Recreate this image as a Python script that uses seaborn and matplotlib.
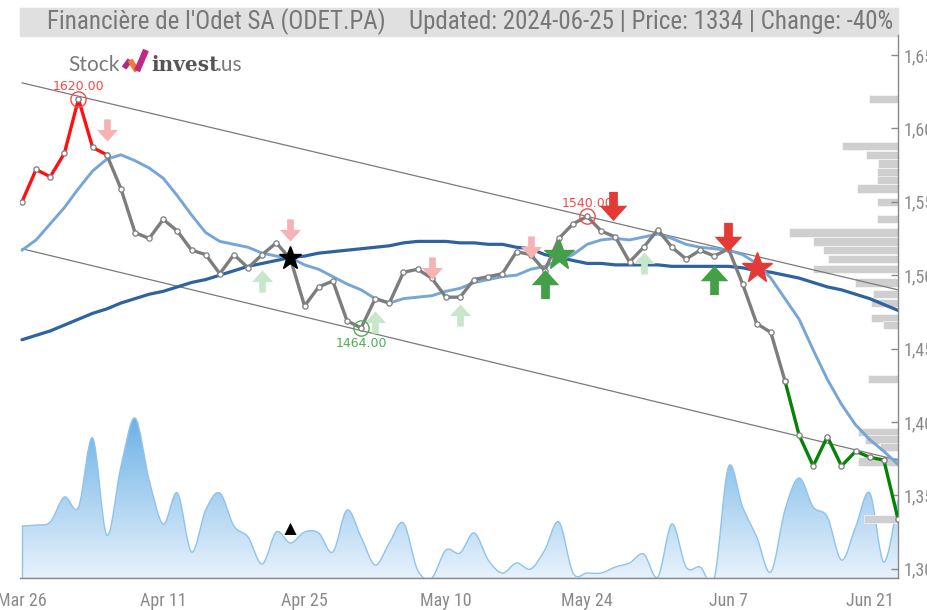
import os
import numpy as np
import pandas as pd
import matplotlib
matplotlib.use("Agg")
import matplotlib.pyplot as plt
import seaborn as sns
from matplotlib import font_manager
from matplotlib.path import Path
from matplotlib.patches import PathPatch, Rectangle
from matplotlib.colors import LinearSegmentedColormap
from matplotlib.lines import Line2D

# ---- data ----
# trading days (Euronext closed on Good Friday, Easter Monday and May 1)
days = pd.bdate_range("2024-03-26", "2024-06-25")
days = days.drop(pd.to_datetime(["2024-03-29", "2024-04-01", "2024-05-01"]))

close = [1550, 1572, 1567, 1583, 1620, 1587, 1582, 1559, 1529, 1525,
         1538, 1530, 1517, 1514, 1501, 1514, 1505, 1514, 1522, 1511,
         1479, 1492, 1496, 1469, 1464, 1484, 1481, 1502, 1504, 1498,
         1485, 1485, 1497, 1499, 1501, 1516, 1514, 1503, 1525, 1535,
         1540, 1530, 1526, 1509, 1519, 1531, 1519, 1511, 1517, 1513,
         1518, 1494, 1467, 1461, 1428, 1391, 1370, 1390, 1370, 1380,
         1376, 1374, 1334]

ma_short = [1517, 1524, 1535, 1546, 1559, 1571, 1579, 1582, 1578, 1573,
            1566, 1554, 1541, 1529, 1523, 1521, 1519, 1515, 1513, 1512,
            1507, 1504, 1499, 1494, 1490, 1484, 1481, 1484, 1485, 1486,
            1489, 1491, 1495, 1497, 1499, 1500, 1504, 1506, 1510, 1514,
            1521, 1524, 1525, 1524, 1526, 1528, 1525, 1521, 1519, 1518,
            1517, 1514, 1508, 1498, 1484, 1470, 1449, 1429, 1412, 1398,
            1388, 1380, 1371]

ma_long = [1456, 1459, 1462, 1466, 1470, 1474, 1477, 1481, 1484, 1487,
           1489, 1492, 1495, 1497, 1500, 1503, 1506, 1508, 1510, 1512,
           1513, 1515, 1516, 1517, 1518, 1519, 1520, 1522, 1523, 1523,
           1523, 1522, 1522, 1521, 1521, 1519, 1518, 1514, 1512, 1510,
           1508, 1508, 1507, 1507, 1507, 1507, 1506, 1506, 1506, 1506,
           1506, 1505, 1503, 1502, 1500, 1498, 1495, 1492, 1490, 1487,
           1484, 1480, 1476]

# relative daily volume
volume = [52, 53, 56, 81, 71, 140, 43, 111, 160, 98,
          54, 85, 26, 68, 85, 52, 41, 14, 46, 35,
          46, 45, 26, 68, 41, 13, 35, 55, 8, 0,
          28, 25, 45, 18, 5, 15, 9, 28, 56, 5,
          5, 5, 11, 15, 24, 1, 54, 11, 11, 0,
          111, 71, 41, 6, 68, 100, 71, 61, 18, 51,
          85, 16, 78]

# trend channel (start / end of period)
channel_upper = [1631, 1490]
channel_lower = [1518, 1374]

# volume at price (right side profile)
profile_price = [1620, 1588, 1582, 1576, 1570, 1565, 1559, 1550, 1538, 1529,
                 1523, 1517, 1511, 1504, 1495, 1487, 1481, 1471, 1466, 1429,
                 1393, 1388, 1383, 1373, 1334]
profile_volume = [29, 56, 32, 20, 21, 21, 41, 21, 21, 109,
                  85, 75, 70, 85, 43, 25, 27, 27, 15, 30,
                  40, 33, 18, 40, 34]

# price marks
mark_idx = [4, 24, 40]
mark_color = ["#f04a4a", "#4caf50", "#f04a4a"]
mark_offset = [9, -11, 9]

# signals: (trading day, price level)
sell_weak_x, sell_weak_y = [6, 19, 29, 36], [1599, 1531, 1505, 1519]
buy_weak_x, buy_weak_y = [17, 25, 31, 44], [1496, 1468, 1473, 1508]
sell_strong_x, sell_strong_y = [41.8, 50], [1547, 1526]
buy_strong_x, buy_strong_y = [37, 49], [1494, 1497]
star_x = [19, 38, 52]
star_y = [1512, 1514, 1505]
star_color = ["black", "#43a047", "#e53935"]
star_size = [17, 23, 23]
vol_mark_x, vol_mark_y = 19, 50

title_left = "Financière de l'Odet SA (ODET.PA)"
title_right = "Updated: 2024-06-25 | Price: 1334 | Change: -40%"


def narrow_font():
    # look for a condensed sans regular face, fall back to Liberation Sans
    prefs = ["liberationsansnarrow-regular", "robotocondensed-regular",
             "notosans-condensed.", "notosans-condensedregular",
             "opensans-condensed", "dejavusanscondensed."]
    files = [f.fname for f in font_manager.fontManager.ttflist]
    for key in prefs:
        for fn in files:
            if key in os.path.basename(fn).lower():
                return font_manager.FontProperties(fname=fn)
    return font_manager.FontProperties(family="Liberation Sans")


# ---- figure ----
sns.set_style("white")
plt.rcParams["font.family"] = ["Liberation Sans", "DejaVu Sans"]
fp = narrow_font()

W, H = 928, 610
fig = plt.figure(figsize=(W / 100, H / 100), dpi=100)
rect = [20 / W, 32 / H, 878 / W, 543 / H]

ax_vol = fig.add_axes(rect)
ax = fig.add_axes(rect, sharex=ax_vol)
ax_prof = fig.add_axes(rect, sharey=ax)
ax_vol.set_zorder(0)
ax_prof.set_zorder(1)
ax.set_zorder(2)
ax.patch.set_visible(False)
ax_prof.patch.set_visible(False)

idx = np.arange(len(close))
xlim = (-0.14, idx[-1])


def spline_verts(xs, ys):
    pts = np.column_stack([xs, ys]).astype(float)
    verts, codes = [tuple(pts[0])], [Path.MOVETO]
    n = len(pts)
    for i in range(n - 1):
        p0, p1 = pts[max(i - 1, 0)], pts[i]
        p2, p3 = pts[i + 1], pts[min(i + 2, n - 1)]
        verts += [tuple(p1 + (p2 - p0) / 6), tuple(p2 - (p3 - p1) / 6), tuple(p2)]
        codes += [Path.CURVE4] * 3
    return verts, codes


# volume area with vertical gradient
v_verts, v_codes = spline_verts(idx, volume)
area = Path([(idx[0], 0)] + v_verts + [(idx[-1], 0), (idx[0], 0)],
            [Path.MOVETO] + [Path.LINETO] + v_codes[1:] + [Path.LINETO, Path.CLOSEPOLY])
clip = PathPatch(area, facecolor="none", edgecolor="none")
ax_vol.add_patch(clip)
cmap = LinearSegmentedColormap.from_list("vol", ["#e8f2fc", "#6db2e6"])
grad = np.linspace(0, 1, 256).reshape(-1, 1)
im = ax_vol.imshow(grad, extent=[idx[0], idx[-1], 0, max(volume)], origin="lower",
                   aspect="auto", cmap=cmap, zorder=1)
im.set_clip_path(clip)
ax_vol.add_patch(PathPatch(Path(v_verts, v_codes), facecolor="none",
                           edgecolor="#8fc3ec", lw=1, zorder=2))
ax_vol.plot([idx[0], idx[0]], [0, volume[0]], color="#8fc3ec", lw=1)
ax_vol.plot(xlim, [0, 0], color="#8fc3ec", lw=1)
ax_vol.plot(vol_mark_x, vol_mark_y, marker="^", color="black", ms=10, mec="white", mew=0.8)
ax_vol.set_xlim(xlim)
ax_vol.set_ylim(0, 543)
ax_vol.axis("off")

# volume profile
ax_prof.barh(profile_price, profile_volume, height=5.6, color="#cfcfcf",
             edgecolor="white", linewidth=0.4)
ax_prof.set_xlim(878, 0)
ax_prof.axis("off")

# trend channel
for ch in (channel_upper, channel_lower):
    sns.lineplot(x=[idx[0], idx[-1]], y=ch, color="#7a7a7a", lw=0.9, ax=ax, zorder=1)

# moving averages
sns.lineplot(x=idx, y=ma_long, color="#2f63a0", lw=2.3, ax=ax, zorder=2)
sns.lineplot(x=idx, y=ma_short, color="#77a6d6", lw=2.1, ax=ax, zorder=2)

# price line: red start, grey middle, green end
segments = [(0, 6, "#ff1010"), (6, 54, "#7d7d7d"), (54, 62, "#078207")]
for a, b, col in segments:
    sns.lineplot(x=idx[a:b + 1], y=close[a:b + 1], color=col, lw=2.4, ax=ax, zorder=3,
                 marker="o", markersize=3.8, markerfacecolor="white",
                 markeredgecolor="#7d7d7d", markeredgewidth=0.9)

# high / low marks
for i, col, off in zip(mark_idx, mark_color, mark_offset):
    ax.plot(i, close[i], marker="o", ms=11, mfc="none", mec=col, mew=1, zorder=5)
    ax.annotate(f"{close[i]:.2f}", (i, close[i]), xytext=(0, off),
                textcoords="offset points", ha="center", va="center",
                color=col, fontsize=9, family="DejaVu Sans", zorder=6)

# arrow markers
down_arrow = Path([(-0.3, 1), (0.3, 1), (0.3, 0.05), (0.95, 0.05), (0, -1),
                   (-0.95, 0.05), (-0.3, 0.05), (-0.3, 1)])
up_arrow = Path([(x, -y) for x, y in down_arrow.vertices])
ax.scatter(sell_weak_x, sell_weak_y, marker=down_arrow, s=16 ** 2, color="#f5b3b3",
           linewidths=0, zorder=4)
ax.scatter(buy_weak_x, buy_weak_y, marker=up_arrow, s=16 ** 2, color="#c8e6c9",
           linewidths=0, zorder=4)
ax.scatter(sell_strong_x, sell_strong_y, marker=down_arrow, s=21 ** 2, color="#e53935",
           linewidths=0, zorder=6)
ax.scatter(buy_strong_x, buy_strong_y, marker=up_arrow, s=21 ** 2, color="#43a047",
           linewidths=0, zorder=6)
for x, y, c, s in zip(star_x, star_y, star_color, star_size):
    ax.plot(x, y, marker="*", ms=s, color=c, mec=c, zorder=7)

# axes styling
ax.set_xlim(xlim)
ax.set_ylim(1293.7, 1663.6)
ax.yaxis.tick_right()
ax.set_yticks(np.arange(1300, 1651, 50))
ax.yaxis.set_major_formatter(matplotlib.ticker.FuncFormatter(lambda v, p: f"{v:,.0f}"))
ax.set_xticks(idx[::10])
ax.set_xticklabels([f"{d:%b} {d.day}" for d in days[::10]])
ax.tick_params(axis="y", direction="in", length=5, width=1, color="#888888",
               labelcolor="#8a8a8a", pad=4)
ax.tick_params(axis="x", direction="out", length=5, width=1, color="#888888",
               labelcolor="#8a8a8a", pad=5)
for lbl in ax.get_yticklabels() + ax.get_xticklabels():
    lbl.set_fontproperties(fp)
    lbl.set_fontsize(13)
ax.set_xlabel("")
ax.set_ylabel("")
for side in ("left", "top"):
    ax.spines[side].set_visible(False)
for side in ("right", "bottom"):
    ax.spines[side].set_color("#888888")
    ax.spines[side].set_linewidth(1)

# title bar
fig.patches.append(Rectangle((20 / W, 1 - 36 / H), 878 / W, 28 / H,
                             transform=fig.transFigure, color="#e0e0e0", zorder=0))
t_left = fig.text(47 / W, 1 - 22 / H, title_left, ha="left", va="center",
                  color="#777777", fontproperties=fp, fontsize=15)
t_right = fig.text(893 / W, 1 - 22 / H, title_right, ha="right", va="center",
                   color="#777777", fontproperties=fp, fontsize=15)
renderer = fig.canvas.get_renderer()
scale = 485 / t_right.get_window_extent(renderer).width
for t in (t_left, t_right):
    t.set_fontsize(15 * scale)

# logo
fig.text(68 / W, 1 - 65 / H, "Stock", ha="left", va="center", color="#7a7a7a",
         fontsize=15, family="Lato")
fig.add_artist(Line2D([124 / W, 130 / W], [1 - 68 / H, 1 - 60 / H],
                      transform=fig.transFigure, color="#b0278f", lw=4, solid_capstyle="butt"))
fig.add_artist(Line2D([130 / W, 137 / W], [1 - 60 / H, 1 - 71 / H],
                      transform=fig.transFigure, color="#f07a2e", lw=4, solid_capstyle="butt"))
fig.add_artist(Line2D([137 / W, 146 / W], [1 - 71 / H, 1 - 50 / H],
                      transform=fig.transFigure, color="#c02a86", lw=4.5, solid_capstyle="butt"))
fig.text(151 / W, 1 - 65 / H, "invest", ha="left", va="center", color="#555555",
         fontsize=14.5, weight="bold", family="DejaVu Serif")
fig.text(217 / W, 1 - 65 / H, ".us", ha="left", va="center", color="#7a7a7a",
         fontsize=15, family="Lato")

fig.savefig("out.png", dpi=100, facecolor="white")
